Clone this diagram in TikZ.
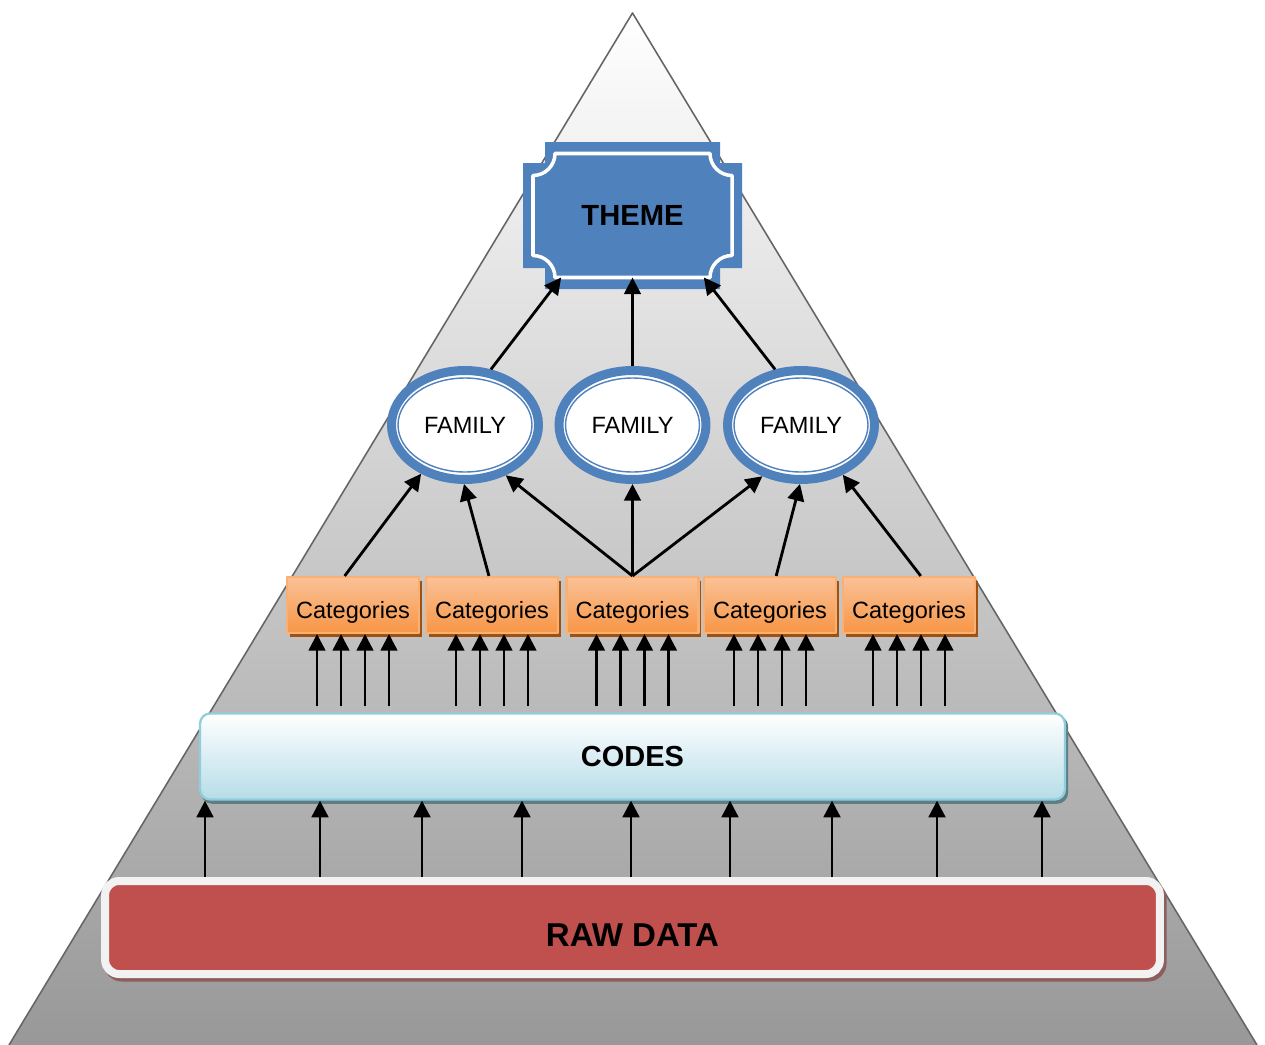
\documentclass[tikz,border=0pt]{standalone}
\usepackage{fontspec}
\setmainfont{Liberation Sans}
\usetikzlibrary{arrows.meta,shadows,shapes.geometric}
\definecolor{themeblue}{HTML}{4F81BD}
\definecolor{catorange}{HTML}{F79646}
\definecolor{catlight}{HTML}{FAC196}
\definecolor{catshadow}{HTML}{A0500F}
\definecolor{codesblue}{HTML}{B6DDE8}
\definecolor{codesline}{HTML}{92CDDC}
\definecolor{codesshadow}{HTML}{5E7E86}
\definecolor{rawred}{HTML}{C0504D}
\definecolor{rawline}{HTML}{F2F2F2}
\definecolor{rawshadow}{HTML}{8E5E5E}
\definecolor{trigray}{HTML}{666666}
\definecolor{tribottom}{HTML}{989898}
\begin{document}
\begin{tikzpicture}[x=0.02cm,y=-0.02cm,line join=round,>={Triangle[length=9.5pt,width=9.5pt]},thick]
	\tikzset{arr/.style={->,line width=1.6pt},
		famstyle/.style={ellipse,draw=themeblue,line width=0.18cm,fill=white,inner sep=0pt,
			minimum width=2.94cm,minimum height=2.18cm,font=\fontsize{13.4}{16}\selectfont,
			path picture={\draw[themeblue,line width=0.8pt] (path picture bounding box.center) ellipse [x radius=1.34cm,y radius=0.94cm];}},
		catstyle/.style={rectangle,draw=catorange!75!white,line width=1.2pt,top color=catlight,bottom color=catorange,
			minimum width=2.64cm,minimum height=1.12cm,inner sep=0pt,text height=0.52cm,text depth=0pt,
			font=\fontsize{13.4}{16}\selectfont,
			drop shadow={shadow xshift=1.7pt,shadow yshift=-2.2pt,fill=catshadow,opacity=1}}}
	\useasboundingbox (0,0) rectangle (1265,1045);
	\shade[top color=white,bottom color=tribottom] (632.5,13)--(1257,1045)--(9,1045)--cycle;
	\draw[trigray,line width=0.9pt] (9,1045)--(632.5,13)--(1257,1045);
	\begin{scope}[shift={(632.5,215.5)}]
		\fill[themeblue] (-109.5,-52.5)--(-87.5,-52.5)--(-87.5,-73.5)--(87.5,-73.5)--(87.5,-52.5)--(109.5,-52.5)
			--(109.5,52.5)--(87.5,52.5)--(87.5,73.5)--(-87.5,73.5)--(-87.5,52.5)--(-109.5,52.5)--cycle;
		\draw[white,line width=2pt] (-77.5,-62)--(77.5,-62) arc[start angle=180,end angle=90,radius=22]
			--(99.5,40) arc[start angle=270,end angle=180,radius=22]
			--(-77.5,62) arc[start angle=0,end angle=-90,radius=22]
			--(-99.5,-40) arc[start angle=90,end angle=0,radius=22]--cycle;
	\end{scope}
	\node[inner sep=0pt,outer sep=0pt,minimum width=3.98cm,minimum height=2.48cm,font=\fontsize{16.6}{19}\selectfont\bfseries] (theme) at (632.5,215.5) {THEME};
	\node[famstyle] (f1) at (465,425) {FAMILY};
	\node[famstyle] (f2) at (632.5,425) {FAMILY};
	\node[famstyle] (f3) at (801,425) {FAMILY};
	\node[catstyle] (c1) at (353,605) {Categories};
	\node[catstyle] (c2) at (492,605) {Categories};
	\node[catstyle] (c3) at (632.5,605) {Categories};
	\node[catstyle] (c4) at (770,605) {Categories};
	\node[catstyle] (c5) at (909,605) {Categories};
	\node[rectangle,rounded corners=0.2cm,draw=codesline,line width=1.3pt,top color=white,bottom color=codesblue,
		minimum width=17.3cm,minimum height=1.72cm,font=\fontsize{16.5}{19}\selectfont\bfseries,
		drop shadow={shadow xshift=1.2pt,shadow yshift=-1.8pt,fill=codesshadow,draw=codesshadow,line width=1.3pt,opacity=1}] (codes) at (632.5,756.5) {CODES};
	\node[rectangle,rounded corners=0.28cm,draw=rawline,line width=0.16cm,fill=rawred,
		minimum width=21.1cm,minimum height=1.86cm,text height=0.77cm,text depth=0pt,
		font=\fontsize{18.8}{22}\selectfont\bfseries,
		drop shadow={shadow xshift=1.5pt,shadow yshift=-2pt,fill=rawshadow,draw=rawshadow,line width=0.16cm,opacity=1}] (raw) at (632.5,927.5) {RAW DATA};
	\foreach \x in {205,320,422,522,631,730,832,937,1042}
		\draw[arr] (\x,0 |- raw.north)--(\x,0 |- codes.south);
	\foreach \c in {c1,c2,c3,c4,c5}
		\foreach \dx in {-36,-12,12,36}{
			\path (\c.south) ++(\dx,0) coordinate (tip);
			\draw[arr,shorten <=0.12cm] (tip |- codes.north)--(tip);
		}
	\draw[arr] (c1.106)--(f1.228);
	\draw[arr] (c2.96)--(f1.269);
	\draw[arr] (c3.north)--(f1.309);
	\draw[arr] (c3.north)--(f2.south);
	\draw[arr] (c3.north)--(f3.233);
	\draw[arr] (c4.78)--(f3.269);
	\draw[arr] (c5.68)--(f3.310);
	\draw[arr] (f1.65)--(theme.221);
	\draw[arr] (f2.north)--(theme.south);
	\draw[arr] (f3.115)--(theme.319);
\end{tikzpicture}
\end{document}
